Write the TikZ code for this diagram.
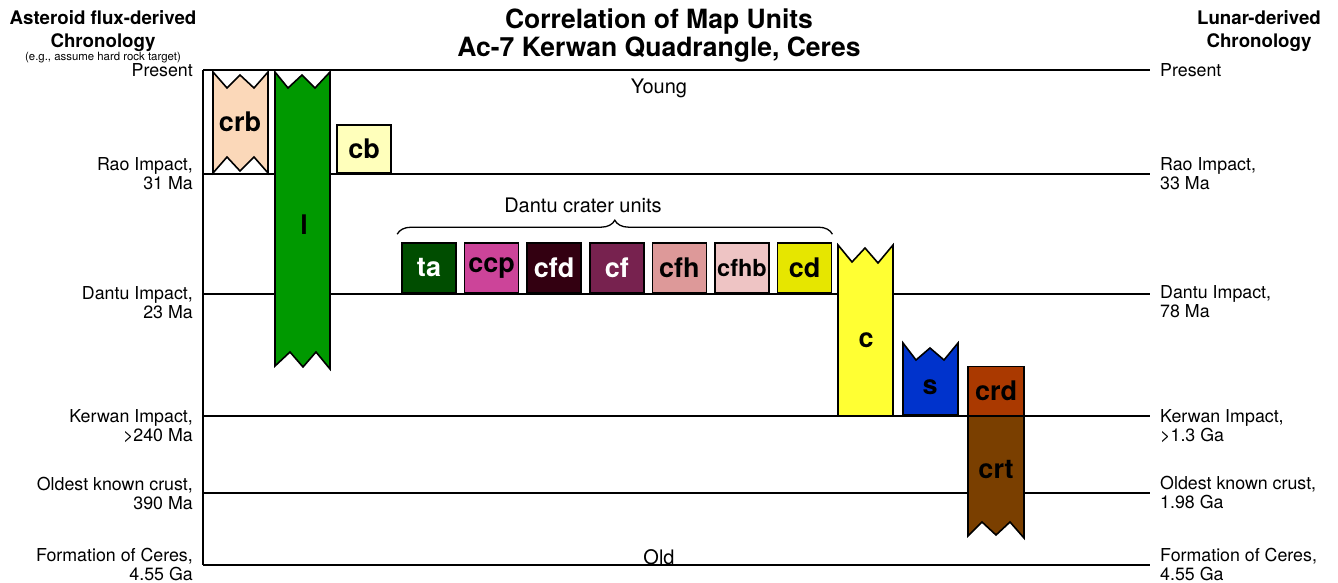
\documentclass[tikz,border=0pt]{standalone}
\usepackage{fontspec}
\setmainfont{TeX Gyre Heros}
\usetikzlibrary{positioning,decorations.pathreplacing}
\definecolor{crbPeach}{RGB}{251,216,185}
\definecolor{lGreen}{RGB}{0,153,0}
\definecolor{cbYellow}{RGB}{255,255,187}
\definecolor{taGreen}{RGB}{0,77,0}
\definecolor{ccpPink}{RGB}{204,68,153}
\definecolor{cfdMaroon}{RGB}{51,0,17}
\definecolor{cfPlum}{RGB}{119,34,79}
\definecolor{cfhRose}{RGB}{221,153,153}
\definecolor{cfhbRose}{RGB}{238,196,196}
\definecolor{cdYellow}{RGB}{230,230,0}
\definecolor{cYellow}{RGB}{255,255,51}
\definecolor{sBlue}{RGB}{0,51,204}
\definecolor{crdRust}{RGB}{170,57,0}
\definecolor{crtBrown}{RGB}{122,63,0}
\newcommand{\unitfnt}{\fontsize{27}{27}\selectfont\bfseries}
\newcommand{\lblfnt}{\fontsize{17.8}{19}\selectfont}
\newcommand{\headfnt}{\fontsize{18.7}{23}\selectfont\bfseries}
\newcommand{\titlefnt}{\fontsize{26.5}{28}\selectfont\bfseries}
\newcommand{\notefnt}{\fontsize{11.4}{12}\selectfont}
\newcommand{\midfnt}{\fontsize{20}{22}\selectfont}

\begin{document}
\begin{tikzpicture}[x=1pt, y=-1pt,
    timeline/.style={line width=2pt, black},
    unit/.style={rectangle, draw=black, line width=1.6pt, minimum width=54pt, minimum height=50pt, inner sep=0pt, font=\unitfnt},
    zig/.style={draw=black, line width=1.6pt, line join=miter},
    unitlbl/.style={inner sep=0pt, font=\unitfnt},
    lbl/.style={inner sep=0pt, font=\lblfnt},
    head/.style={inner sep=0pt, font=\headfnt, align=center},
    brace/.style={decorate, decoration={brace, amplitude=14pt}, line width=1.3pt}
]
    \useasboundingbox (0,0) rectangle (1338,583);

    % Headings
    \node[head] (lhead) at (103,31) {Asteroid flux-derived\\Chronology};
    \node[inner sep=0pt, font=\notefnt] (lnote) at (103,58) {(e.g., assume hard rock target)};
    \node[head] (rhead) at (1259,31) {Lunar-derived\\Chronology};
    \node[inner sep=0pt, font=\titlefnt, align=center] (title) at (659,36) {Correlation of Map Units\\Ac-7 Kerwan Quadrangle, Ceres};

    % Time lines
    \foreach \y/\n in {70/present, 174/rao, 294/dantu, 416/kerwan, 493/oldest, 565/formation}
        \draw[timeline] (203,\y) coordinate (\n-l) -- (1150,\y) coordinate (\n-r);
    \draw[timeline] (present-l) -- (formation-l);

    \node[inner sep=0pt, font=\midfnt] (young) at (659,88) {Young};
    \node[inner sep=0pt, font=\midfnt] (old) at (659,557) {Old};

    % Left chronology
    \node[lbl, left=10pt of present-l] {Present};
    \node[lbl, left=10pt of rao-l, align=right] {Rao Impact,\\31 Ma};
    \node[lbl, left=10pt of dantu-l, align=right, yshift=-9pt] {Dantu Impact,\\23 Ma};
    \node[lbl, left=10pt of kerwan-l, align=right, yshift=-10pt] {Kerwan Impact,\\>240 Ma};
    \node[lbl, left=10pt of oldest-l, align=right] {Oldest known crust,\\390 Ma};
    \node[lbl, left=10pt of formation-l, align=right] {Formation of Ceres,\\4.55 Ga};

    % Right chronology
    \node[lbl, right=10pt of present-r] {Present};
    \node[lbl, right=10pt of rao-r, align=left] {Rao Impact,\\33 Ma};
    \node[lbl, right=10pt of dantu-r, align=left, yshift=-8pt] {Dantu Impact,\\78 Ma};
    \node[lbl, right=10pt of kerwan-r, align=left, yshift=-10pt] {Kerwan Impact,\\>1.3 Ga};
    \node[lbl, right=10pt of oldest-r, align=left] {Oldest known crust,\\1.98 Ga};
    \node[lbl, right=10pt of formation-r, align=left] {Formation of Ceres,\\4.55 Ga};

    % crb and l
    \draw[zig, fill=crbPeach] (213,72) -- (227,88) -- (240,75) -- (254,88) -- (268,72) -- (268,173) -- (254,157) -- (240,171) -- (227,157) -- (213,173) -- cycle;
    \node[unitlbl] (crb) at (240,122) {crb};
    \draw[zig, fill=lGreen] (275,72) -- (288,88) -- (302,75) -- (315,88) -- (330,72) -- (330,369) -- (316,352) -- (303,367) -- (290,352) -- (275,366) -- cycle;
    \node[unitlbl] (l) at (304,225) {l};
    \node[unit, fill=cbYellow, minimum height=48pt] (cb) at (364,149) {cb};

    % Dantu crater units
    \node[unit, fill=taGreen, text=white] (ta) at (429,268) {ta};
    \node[unit, fill=ccpPink, right=7pt of ta] (ccp) {ccp};
    \node[unit, fill=cfdMaroon, text=white, right=7pt of ccp] (cfd) {cfd};
    \node[unit, fill=cfPlum, text=white, right=7pt of cfd] (cf) {cf};
    \node[unit, fill=cfhRose, right=7pt of cf] (cfh) {cfh};
    \node[unit, fill=cfhbRose, right=7pt of cfh, font=\fontsize{23.5}{23.5}\selectfont\bfseries] (cfhb) {cfhb};
    \node[unit, fill=cdYellow, right=7pt of cfhb] (cd) {cd};
    \draw[brace] ([xshift=-4pt, yshift=8pt]ta.north west) -- ([yshift=8pt]cd.north east);
    \node[inner sep=0pt, font=\midfnt] (dantulbl) at (583,205) {Dantu crater units};

    % c, s, crd, crt
    \draw[zig, fill=cYellow] (838,245) -- (852,262) -- (865,248) -- (878,263) -- (893,245) -- (893,416) -- (838,416) -- cycle;
    \node[unitlbl] (c) at (866,340) {c};
    \draw[zig, fill=sBlue] (903,343) -- (916,360) -- (930,348) -- (944,360) -- (958,343) -- (958,415) -- (903,415) -- cycle;
    \node[unitlbl] (s) at (930,387) {s};
    \node[unit, fill=crdRust, minimum width=56pt, minimum height=49pt] (crd) at (996,391) {crd};
    \draw[zig, fill=crtBrown] (968,416) -- (1024,416) -- (1024,538) -- (1010,522) -- (996,535) -- (982,522) -- (968,536) -- cycle;
    \node[unitlbl] (crt) at (996,470) {crt};
\end{tikzpicture}
\end{document}
